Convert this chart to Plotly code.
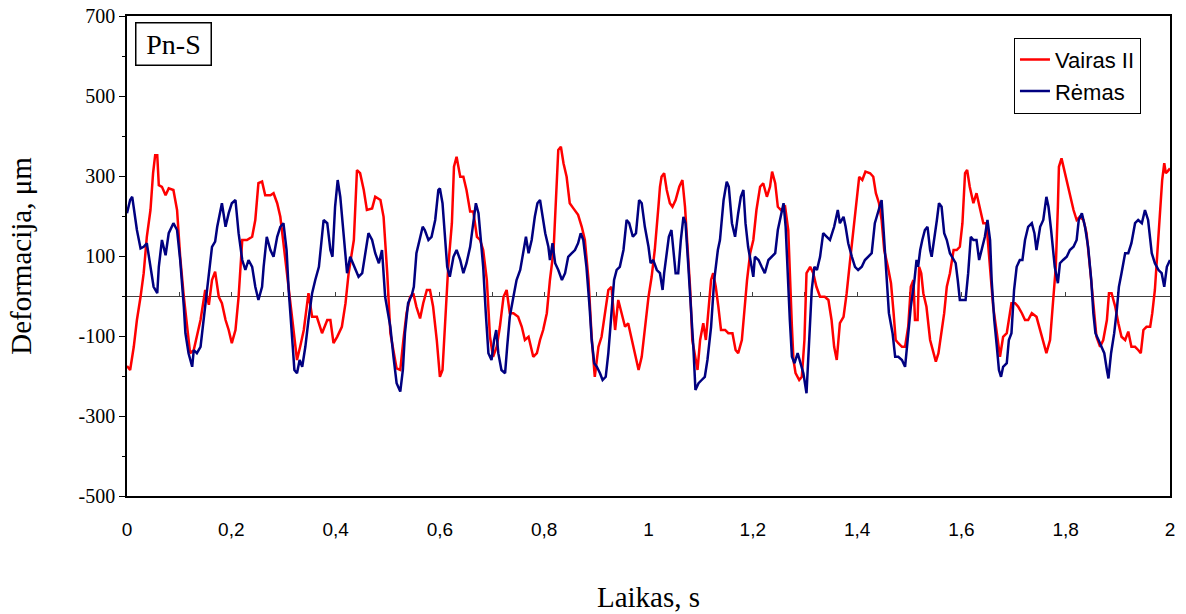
import plotly.graph_objects as go

# ---------------- data ----------------
red_name = "Vairas II"
blue_name = "Rėmas"

red_t = [0.000,0.006,0.013,0.019,0.026,0.032,0.038,0.045,0.050,0.054,0.058,0.061,0.067,0.074,0.080,0.089,0.096,0.102,0.109,0.115,
         0.121,0.128,0.134,0.141,0.150,0.157,0.163,0.169,0.176,0.182,0.189,0.195,0.201,0.208,0.214,0.221,0.230,0.240,0.246,0.252,
         0.259,0.265,0.275,0.281,0.288,0.294,0.300,0.307,0.313,0.320,0.326,0.332,0.339,0.348,0.355,0.364,0.374,0.384,0.390,0.396,
         0.403,0.412,0.419,0.425,0.435,0.441,0.447,0.454,0.460,0.470,0.476,0.486,0.492,0.499,0.505,
         0.517,0.524,0.530,0.536,0.543,0.549,0.555,0.562,0.568,0.575,0.581,0.587,0.594,0.600,0.605,0.610,0.616,0.623,0.627,0.632,
         0.639,0.645,0.651,0.658,0.664,0.671,0.677,0.683,0.690,0.696,0.702,0.709,0.715,0.722,0.728,0.734,0.741,0.750,0.757,0.763,
         0.770,0.779,0.786,0.792,0.798,0.805,0.811,0.818,0.824,0.827,0.832,0.837,0.843,0.849,0.856,0.865,0.872,0.878,0.885,0.891,
         0.897,0.904,0.910,0.917,0.923,0.929,0.936,0.942,0.949,0.955,0.961,0.968,0.974,0.981,0.987,0.993,1.000,1.006,1.012,1.019,1.022,
         1.025,1.030,1.035,1.041,1.046,1.052,1.059,1.065,1.070,1.075,1.080,1.084,1.089,1.094,1.099,1.105,1.110,1.115,1.120,1.124,
         1.129,1.134,1.139,1.147,1.153,1.161,1.167,1.172,1.179,1.184,1.189,1.195,1.201,1.207,1.214,1.220,1.227,1.233,1.237,1.243,
         1.248,1.254,1.262,1.268,1.271,1.275,1.278,1.282,1.289,1.294,1.299,1.303,1.310,1.316,1.322,1.329,1.338,1.345,1.351,1.356,
         1.361,1.367,1.374,1.380,1.386,1.393,1.399,1.404,1.410,1.416,1.425,1.431,1.436,1.442,1.447,1.452,1.459,1.465,1.470,1.474,
         1.479,1.486,1.492,1.498,1.503,1.508,
         1.511,1.516,1.519,1.523,1.527,1.533,1.540,1.546,1.551,1.556,1.561,1.567,1.572,1.578,1.585,1.591,1.597,1.602,1.607,1.611,
         1.616,1.623,1.629,1.636,1.642,1.648,1.655,1.661,1.668,1.674,1.680,1.687,1.693,1.696,1.703,1.709,1.716,1.722,1.728,1.735,
         1.744,1.751,1.757,1.763,1.770,1.776,1.781,1.785,1.787,1.792,1.797,1.804,1.809,1.815,1.821,1.827,1.834,1.840,1.847,1.853,
         1.859,1.866,1.872,1.879,1.883,1.888,1.895,1.901,1.907,1.914,1.920,1.926,1.933,1.939,1.944,1.949,1.955,1.962,1.966,1.971,
         1.976,1.981,1.985,1.989,1.992,1.995,2.000]
red_v = [-175,-185,-127,-60,-2,57,148,215,307,352,352,277,273,252,269,265,215,98,-2,-77,
         -143,-135,-102,-60,15,-22,40,61,-2,-18,-60,-85,-118,-85,-2,140,140,148,190,282,
         286,252,252,257,232,198,132,57,-18,-93,-160,-127,-85,7,-52,-52,-93,-60,-60,-118,
         -102,-77,-18,57,140,315,307,265,215,219,248,240,198,57,-93,
         -181,-185,-110,-43,-2,7,-27,-56,-18,15,15,-27,-110,-202,-185,-77,73,182,323,348,
         298,298,265,211,211,148,140,115,40,-102,-152,-127,-77,-2,15,-43,-43,-52,-77,-110,
         -102,-152,-143,-110,-85,-43,40,115,273,365,373,332,298,232,219,203,173,140,40,-102,
         -202,-127,-102,-43,15,23,-85,-10,-43,-77,-68,-110,-143,-185,-152,-77,-2,48,115,223,273,
         298,307,265,232,223,240,273,290,223,115,15,-110,-152,-185,-110,-68,-110,-43,40,57,
         23,-27,-85,-85,-93,-93,-135,-143,-110,-35,40,107,140,215,273,282,248,273,311,282,
         223,215,223,165,40,-77,-160,-193,-210,-202,-110,57,73,57,23,-2,-2,-10,-60,-127,
         -160,-68,-52,7,82,173,248,298,290,311,307,298,257,232,190,115,73,32,-43,-110,
         -118,-127,-127,-77,23,40,
         -60,-60,73,57,7,-27,-110,-143,-164,-143,-102,-43,23,57,115,115,123,182,307,315,
         273,232,257,215,182,182,73,-27,-93,-152,-102,-93,-43,-18,-18,-27,-43,-60,-60,-43,
         -52,-85,-118,-143,-110,-10,73,223,323,344,315,282,248,215,190,198,190,157,65,-27,
         -102,-127,-110,-60,7,7,-27,-68,-102,-110,-89,-127,-127,-135,-143,-85,-77,-77,-43,15,
         123,223,290,332,307,311,319]

blue_t = [0.000,0.006,0.010,0.013,0.019,0.026,0.032,0.038,0.045,0.051,0.058,0.061,0.067,0.074,0.080,0.089,0.096,0.102,0.109,0.112,
          0.118,0.125,0.128,0.134,0.141,0.150,0.157,0.163,0.169,0.173,0.182,0.189,0.195,0.201,0.208,0.214,0.221,0.227,0.233,0.240,
          0.246,0.252,0.259,0.262,0.268,0.275,0.281,0.288,0.294,0.300,0.306,0.310,0.316,0.321,0.326,0.331,0.336,0.342,0.348,0.355,
          0.361,0.368,0.377,0.384,0.390,0.394,0.399,0.404,0.409,0.415,0.422,0.428,0.438,0.444,0.451,0.457,0.463,0.470,0.476,0.483,
          0.489,0.495,0.505,
          0.511,0.517,0.524,0.529,0.533,0.539,0.546,0.550,0.555,0.562,0.567,0.571,0.578,0.584,0.591,0.597,0.600,0.605,0.610,0.614,
          0.619,0.626,0.632,0.639,0.645,0.651,0.658,0.664,0.669,0.674,0.678,0.683,0.688,0.693,0.699,0.704,0.708,0.712,0.718,0.725,
          0.729,0.734,0.741,0.747,0.754,0.760,0.765,0.770,0.776,0.782,0.787,0.792,0.797,0.802,0.808,0.811,0.816,0.821,0.827,0.834,
          0.840,0.846,0.853,0.859,0.865,0.870,0.875,0.881,0.887,0.891,0.896,0.901,0.907,0.912,0.918,0.923,0.929,0.934,0.939,0.945,
          0.952,0.958,0.963,0.970,0.976,0.982,0.987,0.993,1.000,1.004,1.009,1.016,1.022,
          1.027,1.030,1.035,1.039,1.044,1.048,1.052,1.057,1.062,1.067,1.071,1.076,1.082,1.086,1.090,1.096,1.102,1.108,1.113,1.120,
          1.126,1.133,1.137,1.144,1.150,1.154,1.160,1.166,1.172,1.177,1.182,1.186,1.191,1.197,1.201,1.204,1.211,1.217,1.223,1.230,
          1.237,1.243,1.248,1.254,1.259,1.263,1.267,1.271,1.275,1.280,1.286,1.291,1.297,1.303,1.308,1.313,1.318,1.323,1.329,1.335,
          1.342,1.348,1.356,1.363,1.367,1.374,1.378,1.383,1.390,1.396,1.402,1.409,1.415,1.422,1.428,1.434,1.441,1.447,1.452,1.457,
          1.461,1.468,1.473,1.479,1.486,1.492,1.497,1.503,1.510,
          1.514,1.517,1.521,1.525,1.530,1.535,1.540,1.543,1.548,1.553,1.557,1.562,1.567,1.572,1.578,1.585,1.589,1.593,1.597,1.604,
          1.608,1.613,1.618,1.623,1.629,1.634,1.639,1.645,1.650,1.655,1.658,1.663,1.668,1.672,1.676,1.680,1.687,1.691,1.696,1.701,
          1.706,1.712,1.717,1.722,1.728,1.735,1.740,1.744,1.751,1.757,1.763,1.767,1.772,1.776,1.779,1.785,1.789,1.795,1.802,1.808,
          1.815,1.821,1.825,1.831,1.837,1.843,1.849,1.853,1.857,1.863,1.868,1.874,1.879,1.882,1.887,1.893,1.898,1.902,1.907,1.914,
          1.920,1.926,1.933,1.939,1.946,1.952,1.958,1.965,1.971,1.978,1.984,1.989,1.994,2.000]
blue_v = [207,240,248,223,165,119,123,132,73,23,7,73,140,102,157,182,165,90,-27,-93,
          -143,-177,-135,-143,-127,-27,57,123,136,173,232,173,207,232,240,157,90,65,90,73,
          23,-10,23,73,148,115,98,148,173,182,115,15,-93,-185,-193,-160,-177,-127,-60,7,
          40,73,190,182,115,98,223,290,248,157,57,98,65,48,57,107,157,140,107,82,
          115,-2,-77,
          -152,-218,-239,-185,-93,-18,2,23,107,148,173,165,140,148,190,265,269,232,148,73,
          48,98,115,90,57,82,123,182,232,207,140,73,-43,-143,-160,-110,-85,-143,-185,-193,
          -127,-52,-2,40,65,115,148,107,140,198,232,240,198,157,123,90,132,82,65,40,
          57,98,107,115,132,157,140,73,-27,-110,-168,-177,-193,-210,-202,-143,-43,40,65,73,
          115,190,182,148,157,240,232,173,123,82,90,65,57,
          15,57,107,148,165,115,57,57,140,198,182,82,-35,-127,-235,-218,-210,-202,-160,-77,
          40,115,140,240,286,273,182,148,207,248,265,182,123,73,48,98,90,73,57,90,
          98,107,165,198,232,173,40,-60,-152,-168,-143,-168,-193,-243,-127,15,73,65,98,157,
          148,140,173,215,182,198,173,132,98,73,65,73,90,98,107,182,215,240,140,40,
          -43,-93,-152,-152,-160,-177,-110,-27,40,
          90,73,115,140,165,173,115,98,140,190,232,223,157,140,107,90,82,40,-10,-10,
          -10,57,148,140,140,90,115,148,190,140,40,-60,-127,-185,-202,-177,-168,-110,-93,15,
          73,90,90,140,173,182,157,115,173,190,248,223,165,115,73,32,82,90,98,115,
          123,140,190,207,173,123,40,-43,-93,-110,-127,-143,-185,-206,-143,-93,-35,23,57,107,
          107,132,182,190,182,215,190,107,82,65,57,23,73,90]

x_tick_vals = [0, 0.2, 0.4, 0.6, 0.8, 1.0, 1.2, 1.4, 1.6, 1.8, 2.0]
x_tick_text = ["0", "0,2", "0,4", "0,6", "0,8", "1", "1,2", "1,4", "1,6", "1,8", "2"]
y_tick_vals = [-500, -300, -100, 100, 300, 500, 700]
y_tick_text = ["-500", "-300", "-100", "100", "300", "500", "700"]

x_title = "Laikas, s"
y_title = "Deformacija, μm"
panel_label = "Pn-S"

# ---------------- figure ----------------
SERIF = "Liberation Serif, Times New Roman, serif"
SANS = "Liberation Sans, Arial, sans-serif"

fig = go.Figure()
fig.add_trace(go.Scatter(x=red_t, y=red_v, mode="lines", name=red_name, legendgroup="a",
                         line=dict(color="#FF0000", width=2.5)))
fig.add_trace(go.Scatter(x=blue_t, y=blue_v, mode="lines", name=blue_name, legendgroup="b",
                         line=dict(color="#000080", width=2.5)))

fig.update_layout(
    width=1186, height=614,
    margin=dict(l=127, r=16, t=16, b=118, autoexpand=False),
    paper_bgcolor="white", plot_bgcolor="white",
    showlegend=True,
    legend=dict(x=0.8504, y=0.955, xanchor="left", yanchor="top",
                bordercolor="black", borderwidth=1, bgcolor="white",
                font=dict(family=SANS, size=22, color="black"),
                tracegroupgap=0),
    xaxis=dict(range=[0, 2], tickvals=x_tick_vals, ticktext=x_tick_text,
               showgrid=False, zeroline=False, showline=True, mirror=True,
               linecolor="black", linewidth=1.5, ticks="", automargin=False,
               tickfont=dict(family=SANS, size=19, color="black"),
               ticklabelstandoff=15, ticklabeloverflow="allow",
               title=dict(text=x_title, font=dict(family=SERIF, size=29, color="black"), standoff=48)),
    xaxis2=dict(range=[0, 2], overlaying="x", anchor="free", position=500/1200,
                showline=True, linecolor="#404040", linewidth=1, layer="below traces",
                ticks="inside", ticklen=4, tickcolor="#404040", tickwidth=1, dtick=0.1, tick0=0,
                showticklabels=False, showgrid=False, zeroline=False, automargin=False),
    yaxis=dict(range=[-500, 700], tickvals=y_tick_vals, ticktext=y_tick_text,
               showgrid=False, zeroline=False, showline=True, mirror=True,
               linecolor="black", linewidth=1.5, ticks="outside", ticklen=6, tickwidth=1.2,
               tickcolor="black", automargin=False, ticklabeloverflow="allow",
               minor=dict(ticks="outside", ticklen=3, dtick=100, tick0=0, tickcolor="black", showgrid=False),
               tickfont=dict(family=SERIF, size=20, color="black"),
               title=dict(text=y_title, font=dict(family=SERIF, size=29, color="black"), standoff=38)),
    annotations=[dict(text=panel_label, xref="paper", yref="paper", x=0.0077, y=0.9875,
                      xanchor="left", yanchor="top", showarrow=False,
                      font=dict(family=SERIF, size=28, color="black"),
                      bordercolor="black", borderwidth=1.5, borderpad=1,
                      width=72, height=39, bgcolor="white")],
)
# invisible trace on xaxis2 so the zero-level axis line is drawn
fig.add_trace(go.Scatter(x=[0, 2], y=[None, None], xaxis="x2", yaxis="y", showlegend=False,
                         hoverinfo="skip", mode="lines"))

# remove the default 8px page margin so the figure fills the window exactly
fig.write_html("out.html", config={"displayModeBar": False},
               post_script="document.body.style.margin='0';document.body.style.overflow='hidden';")
